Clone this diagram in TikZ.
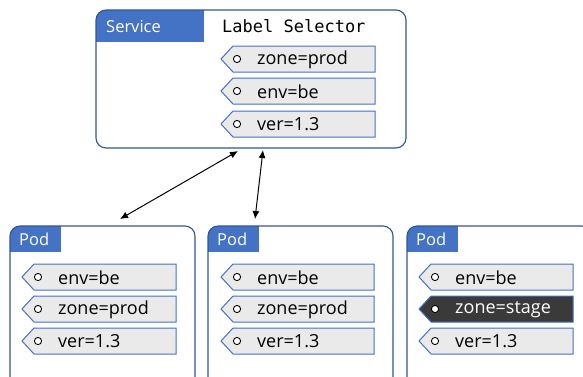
\documentclass[tikz,border=0pt]{standalone}
\usepackage{fontspec}
\setmainfont{Open Sans}
\newfontfamily\codefont{DejaVu Sans Mono}
\usetikzlibrary{arrows.meta}
\definecolor{hdrblue}{HTML}{4472C4}
\definecolor{boxblue}{HTML}{2F5597}
\definecolor{tagfill}{HTML}{EAEAEA}
\definecolor{tagdark}{HTML}{3A3A3A}
\tikzset{
  panel/.style={draw=boxblue, line width=1.1pt, rounded corners=10pt},
  hdr/.style={fill=hdrblue, draw=none},
  hdrtext/.style={text=white, anchor=west, font=\fontsize{16.5}{18}\selectfont, inner sep=0pt},
  tagtext/.style={anchor=west, font=\fontsize{18}{20}\selectfont, inner sep=0pt},
  link/.style={line width=1pt, {Latex[length=8pt,width=7pt]}-{Latex[length=8pt,width=7pt]}},
}
% a label tag: #1 = left tip x, #2 = top y, #3 = right x, #4 = text, #5 = name, #6 = fill, #7 = text colour
\newcommand{\labeltag}[7]{%
  \draw[draw=hdrblue, line width=1pt, fill=#6]
    (#1,#2+13) -- (#1+12,#2) -- (#3,#2) -- (#3,#2+26) -- (#1+12,#2+26) -- cycle;
  \draw[fill=white, draw=black, line width=0.9pt] (#1+16,#2+13) circle (3.6);
  \node[tagtext, text=#7] (#5) at (#1+36,#2+13.5) {#4};
}
\begin{document}
\begin{tikzpicture}[x=1pt, y=-1pt]
  \useasboundingbox (0,0) rectangle (583,376);
  \clip (0,0) rectangle (583,376);

  % service
  \begin{scope}
    \clip[rounded corners=10pt] (96,10) rectangle (406,148);
    \fill[hdr] (96,10) rectangle (204,42);
  \end{scope}
  \draw[panel] (96,10) rectangle (406,148);
  \node[hdrtext] (svc) at (106,26.5) {Service};
  \node[anchor=west, inner sep=0pt, font=\codefont\fontsize{17}{19}\selectfont] (sel) at (222,26) {Label Selector};
  \labeltag{221}{46}{375}{zone=prod}{s1}{tagfill}{black}
  \labeltag{221}{78}{375}{env=be}{s2}{tagfill}{black}
  \labeltag{221}{111}{375}{ver=1.3}{s3}{tagfill}{black}
  \coordinate (svcA) at (238,151);
  \coordinate (svcB) at (263,150);

  % pods
  \foreach \px/\hx/\nm in {10/61/p1, 208/259/p2, 407/458/p3}{
    \begin{scope}
      \clip[rounded corners=10pt] (\px,226) rectangle (\px+185,400);
      \fill[hdr] (\px,226) rectangle (\hx,252);
    \end{scope}
    \draw[panel] (\px,226) rectangle (\px+185,400);
    \node[hdrtext] (\nm) at (\px+9,239.5) {Pod};
  }
  \coordinate (p1top) at (120,219);
  \coordinate (p2top) at (255,219);

  \labeltag{22}{264}{176}{env=be}{a1}{tagfill}{black}
  \labeltag{22}{296}{176}{zone=prod}{a2}{tagfill}{black}
  \labeltag{22}{328}{176}{ver=1.3}{a3}{tagfill}{black}

  \labeltag{221}{264}{374}{env=be}{b1}{tagfill}{black}
  \labeltag{221}{296}{374}{zone=prod}{b2}{tagfill}{black}
  \labeltag{221}{328}{374}{ver=1.3}{b3}{tagfill}{black}

  \labeltag{419}{264}{573}{env=be}{c1}{tagfill}{black}
  \labeltag{419}{296}{573}{zone=stage}{c2}{tagdark}{white}
  \labeltag{419}{328}{573}{ver=1.3}{c3}{tagfill}{black}

  % selector links
  \draw[link] (p1top) -- (svcA);
  \draw[link] (p2top) -- (svcB);
\end{tikzpicture}
\end{document}
